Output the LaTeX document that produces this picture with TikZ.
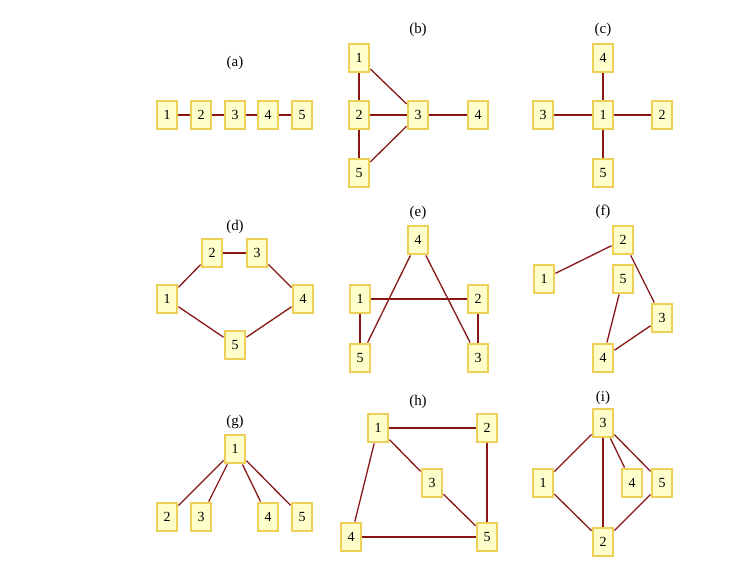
\documentclass[tikz,border=0pt]{standalone}
\usepackage{fontspec}
\setmainfont{Liberation Serif}
\usepackage{tikz}
\usetikzlibrary{shapes, positioning}
\definecolor{boxfill}{RGB}{255,255,204}
\definecolor{boxedge}{RGB}{238,208,88}
\definecolor{edgered}{RGB}{135,22,22}
\tikzstyle{vnode} = [rectangle, fill=boxfill, draw=boxedge, line width=2.4bp, minimum width=20.5bp, minimum height=28.5bp, inner sep=0pt, font=\fontsize{14}{16}\selectfont]
\tikzstyle{sublabel} = [font=\fontsize{15}{17}\selectfont]
\tikzstyle{line} = [draw, edgered, line width=1.3bp]

\begin{document}
\begin{tikzpicture}[x=1bp, y=-1bp]
			\useasboundingbox (0,0) rectangle (729,580);

			% (a) path
			\node [sublabel] (la) at (235, 63) {(a)};
			\node [vnode] (a1) at (167, 115) {1};
			\node [vnode] (a2) at (201, 115) {2};
			\node [vnode] (a3) at (235, 115) {3};
			\node [vnode] (a4) at (268, 115) {4};
			\node [vnode] (a5) at (302, 115) {5};

			\path [line] (a1) -- (a2);
			\path [line] (a2) -- (a3);
			\path [line] (a3) -- (a4);
			\path [line] (a4) -- (a5);

			% (b)
			\node [sublabel] (lb) at (418, 30) {(b)};
			\node [vnode] (b1) at (359, 58) {1};
			\node [vnode] (b2) at (359, 115) {2};
			\node [vnode] (b3) at (418, 115) {3};
			\node [vnode] (b4) at (478, 115) {4};
			\node [vnode] (b5) at (359, 173) {5};

			\path [line] (b1) -- (b2);
			\path [line] (b1) -- (b3);
			\path [line] (b2) -- (b3);
			\path [line] (b3) -- (b4);
			\path [line] (b2) -- (b5);
			\path [line] (b5) -- (b3);

			% (c) star
			\node [sublabel] (lc) at (603, 30) {(c)};
			\node [vnode] (c4) at (603, 58) {4};
			\node [vnode] (c3) at (543, 115) {3};
			\node [vnode] (c1) at (603, 115) {1};
			\node [vnode] (c2) at (662, 115) {2};
			\node [vnode] (c5) at (603, 173) {5};

			\path [line] (c1) -- (c4);
			\path [line] (c1) -- (c3);
			\path [line] (c1) -- (c2);
			\path [line] (c1) -- (c5);

			% (d) cycle
			\node [sublabel] (ld) at (235, 227) {(d)};
			\node [vnode] (d2) at (212, 253) {2};
			\node [vnode] (d3) at (257, 253) {3};
			\node [vnode] (d1) at (167, 299) {1};
			\node [vnode] (d4) at (303, 299) {4};
			\node [vnode] (d5) at (235, 345) {5};

			\path [line] (d1) -- (d2);
			\path [line] (d2) -- (d3);
			\path [line] (d3) -- (d4);
			\path [line] (d4) -- (d5);
			\path [line] (d5) -- (d1);

			% (e)
			\node [sublabel] (le) at (418, 213) {(e)};
			\node [vnode] (e4) at (418, 240) {4};
			\node [vnode] (e1) at (360, 299) {1};
			\node [vnode] (e2) at (478, 299) {2};
			\node [vnode] (e5) at (360, 358) {5};
			\node [vnode] (e3) at (478, 358) {3};

			\path [line] (e1) -- (e2);
			\path [line] (e1) -- (e5);
			\path [line] (e2) -- (e3);
			\path [line] (e4) -- (e5);
			\path [line] (e4) -- (e3);

			% (f)
			\node [sublabel] (lf) at (603, 212) {(f)};
			\node [vnode] (f2) at (623, 240) {2};
			\node [vnode] (f1) at (544, 279) {1};
			\node [vnode] (f5) at (623, 279) {5};
			\node [vnode] (f3) at (662, 318) {3};
			\node [vnode] (f4) at (603, 358) {4};

			\path [line] (f1) -- (f2);
			\path [line] (f2) -- (f3);
			\path [line] (f3) -- (f4);
			\path [line] (f4) -- (f5);

			% (g)
			\node [sublabel] (lg) at (235, 422) {(g)};
			\node [vnode] (g1) at (235, 449) {1};
			\node [vnode] (g2) at (167, 517) {2};
			\node [vnode] (g3) at (201, 517) {3};
			\node [vnode] (g4) at (268, 517) {4};
			\node [vnode] (g5) at (302, 517) {5};

			\path [line] (g1) -- (g2);
			\path [line] (g1) -- (g3);
			\path [line] (g1) -- (g4);
			\path [line] (g1) -- (g5);

			% (h)
			\node [sublabel] (lh) at (418, 402) {(h)};
			\node [vnode] (h1) at (378, 428) {1};
			\node [vnode] (h2) at (487, 428) {2};
			\node [vnode] (h3) at (432, 483) {3};
			\node [vnode] (h4) at (351, 537) {4};
			\node [vnode] (h5) at (487, 537) {5};

			\path [line] (h1) -- (h2);
			\path [line] (h1) -- (h3);
			\path [line] (h3) -- (h5);
			\path [line] (h2) -- (h5);
			\path [line] (h1) -- (h4);
			\path [line] (h4) -- (h5);

			% (i)
			\node [sublabel] (li) at (603, 398) {(i)};
			\node [vnode] (i3) at (603, 423) {3};
			\node [vnode] (i1) at (543, 483) {1};
			\node [vnode] (i4) at (632, 483) {4};
			\node [vnode] (i5) at (662, 483) {5};
			\node [vnode] (i2) at (603, 542) {2};

			\path [line] (i1) -- (i3);
			\path [line] (i1) -- (i2);
			\path [line] (i3) -- (i2);
			\path [line] (i3) -- (i4);
			\path [line] (i3) -- (i5);
			\path [line] (i5) -- (i2);
		\end{tikzpicture}
\end{document}
